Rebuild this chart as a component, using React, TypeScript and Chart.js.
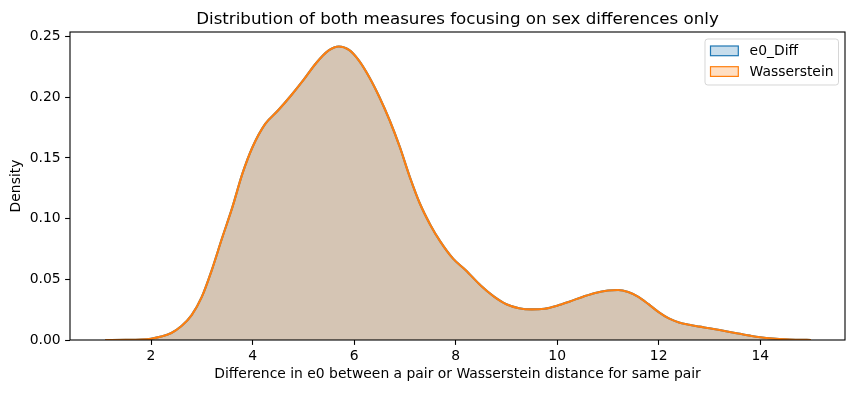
import React, { useEffect, useRef } from "react";
import { Chart, registerables } from "chart.js";

Chart.register(...registerables);

const FONT = "'DejaVu Sans', sans-serif";

const titleText = "Distribution of both measures focusing on sex differences only";
const xAxisLabel = "Difference in e0 between a pair or Wasserstein distance for same pair";
const yAxisLabel = "Density";
const seriesNames = ["e0_Diff", "Wasserstein"];

const gridX = [
  1.1, 1.5, 1.8, 2.0, 2.2, 2.4, 2.6, 2.8, 3.0, 3.2, 3.4, 3.6, 3.8, 4.0, 4.25, 4.5, 4.75,
  5.0, 5.25, 5.5, 5.7, 5.9, 6.1, 6.3, 6.5, 6.7, 6.9, 7.1, 7.3, 7.5, 7.7, 7.95, 8.2, 8.5,
  8.75, 9.0, 9.25, 9.5, 9.75, 10.0, 10.25, 10.5, 10.75, 11.0, 11.2, 11.4, 11.6, 11.8, 12.0,
  12.2, 12.4, 12.6, 12.8, 13.0, 13.2, 13.4, 13.6, 13.8, 14.0, 14.25, 14.5, 14.75, 15.0,
];

const e0Diff = [
  0.0, 0.0001, 0.0004, 0.0011, 0.0028, 0.0058, 0.0115, 0.0205, 0.0355, 0.058, 0.084, 0.109,
  0.137, 0.159, 0.178, 0.189, 0.201, 0.214, 0.228, 0.2385, 0.2418, 0.239, 0.23, 0.2165, 0.2,
  0.181, 0.159, 0.134, 0.112, 0.095, 0.081, 0.067, 0.0575, 0.0447, 0.036, 0.0295, 0.0262,
  0.0252, 0.0258, 0.0283, 0.0318, 0.0355, 0.0388, 0.0408, 0.0412, 0.0395, 0.0355, 0.0295,
  0.023, 0.0178, 0.0145, 0.0125, 0.011, 0.0097, 0.0082, 0.0066, 0.0051, 0.0036, 0.0023,
  0.0012, 0.0005, 0.0002, 0.0,
];

const wasserstein = [
  0.0, 0.0001, 0.0004, 0.0011, 0.0028, 0.0058, 0.0115, 0.0205, 0.0355, 0.058, 0.084, 0.109,
  0.137, 0.159, 0.178, 0.189, 0.201, 0.214, 0.228, 0.2385, 0.2418, 0.239, 0.23, 0.2165, 0.2,
  0.181, 0.159, 0.134, 0.112, 0.095, 0.081, 0.067, 0.0575, 0.0447, 0.036, 0.0295, 0.0262,
  0.0252, 0.0258, 0.0283, 0.0318, 0.0355, 0.0388, 0.0408, 0.0412, 0.0395, 0.0355, 0.0295,
  0.023, 0.0178, 0.0145, 0.0125, 0.011, 0.0097, 0.0082, 0.0066, 0.0051, 0.0036, 0.0023,
  0.0012, 0.0005, 0.0002, 0.0,
];

const xTicks = [2, 4, 6, 8, 10, 12, 14];
const yTicks = [0, 0.05, 0.1, 0.15, 0.2, 0.25];

const lineColors = ["#1f77b4", "#ff7f0e"];
const fillColors = ["rgba(31,119,180,0.25)", "rgba(255,127,14,0.25)"];

const framePlugin = {
  id: "frameAndExtras",
  afterDatasetsDraw(chart: any) {
    const { ctx, chartArea } = chart;
    const { left, right, top, bottom } = chartArea;
    ctx.save();
    ctx.strokeStyle = "#000";
    ctx.lineWidth = 1.1;
    ctx.strokeRect(left, top, right - left, bottom - top);
    ctx.restore();
  },
  afterDraw(chart: any) {
    const { ctx, chartArea } = chart;
    const { left, right } = chartArea;
    ctx.save();
    // title
    ctx.fillStyle = "#000";
    ctx.font = `16.7px ${FONT}`;
    ctx.textAlign = "center";
    ctx.textBaseline = "alphabetic";
    ctx.fillText(titleText, (left + right) / 2, 24);

    // legend
    const fx = right - 140;
    const fy = 39;
    const fw = 133.5;
    const fh = 46;
    const r = 2.8;
    ctx.beginPath();
    ctx.moveTo(fx + r, fy);
    ctx.lineTo(fx + fw - r, fy);
    ctx.arcTo(fx + fw, fy, fx + fw, fy + r, r);
    ctx.lineTo(fx + fw, fy + fh - r);
    ctx.arcTo(fx + fw, fy + fh, fx + fw - r, fy + fh, r);
    ctx.lineTo(fx + r, fy + fh);
    ctx.arcTo(fx, fy + fh, fx, fy + fh - r, r);
    ctx.lineTo(fx, fy + r);
    ctx.arcTo(fx, fy, fx + r, fy, r);
    ctx.closePath();
    ctx.fillStyle = "rgba(255,255,255,0.8)";
    ctx.fill();
    ctx.strokeStyle = "rgba(204,204,204,0.8)";
    ctx.lineWidth = 1;
    ctx.stroke();

    const ds = chart.data.datasets;
    ctx.font = `13.9px ${FONT}`;
    ctx.textAlign = "left";
    ctx.textBaseline = "alphabetic";
    for (let i = 0; i < ds.length; i++) {
      const py = 46 + i * 20.7;
      const px = fx + 5.5;
      ctx.fillStyle = "#fff";
      ctx.fillRect(px, py, 27.8, 9.7);
      ctx.fillStyle = ds[i].backgroundColor;
      ctx.fillRect(px, py, 27.8, 9.7);
      ctx.strokeStyle = ds[i].borderColor;
      ctx.lineWidth = 1.2;
      ctx.strokeRect(px, py, 27.8, 9.7);
      ctx.fillStyle = "#000";
      ctx.fillText(ds[i].label, px + 27.8 + 11.3, py + 9.4);
    }
    ctx.restore();
  },
};

export default function App() {
  const canvasRef = useRef<HTMLCanvasElement | null>(null);

  useEffect(() => {
    document.body.style.margin = "0";
    const canvas = canvasRef.current;
    if (!canvas) return;
    const mk = (vals: number[]) => gridX.map((x, i) => ({ x, y: vals[i] }));
    const chart = new Chart(canvas, {
      type: "line",
      data: {
        datasets: [
          {
            label: seriesNames[0],
            data: mk(e0Diff),
            borderColor: lineColors[0],
            backgroundColor: fillColors[0],
            borderWidth: 2.1,
            fill: "origin",
            pointRadius: 0,
            cubicInterpolationMode: "monotone",
            order: 1,
          },
          {
            label: seriesNames[1],
            data: mk(wasserstein),
            borderColor: lineColors[1],
            backgroundColor: fillColors[1],
            borderWidth: 2.1,
            fill: "origin",
            pointRadius: 0,
            cubicInterpolationMode: "monotone",
            order: 0,
          },
        ],
      },
      options: {
        animation: false,
        responsive: false,
        devicePixelRatio: 1,
        layout: { padding: { top: 32, right: 10, left: 0, bottom: 0 } },
        plugins: {
          legend: { display: false },
          title: { display: false },
          tooltip: { enabled: false },
        },
        scales: {
          x: {
            type: "linear",
            min: 0.404,
            max: 15.67,
            afterBuildTicks: (s: any) => {
              s.ticks = xTicks.map((v) => ({ value: v }));
            },
            afterFit: (s: any) => {
              s.height = 53;
            },
            ticks: {
              autoSkip: false,
              maxRotation: 0,
              color: "#000",
              font: { family: FONT, size: 13.9 },
              padding: 3.3,
              callback: (v: any) => String(v),
            },
            grid: {
              drawOnChartArea: false,
              drawTicks: true,
              tickLength: 4.9,
              tickColor: "#000",
              tickWidth: 1.1,
            },
            border: { display: false },
            title: {
              display: true,
              text: xAxisLabel,
              color: "#000",
              font: { family: FONT, size: 13.9 },
              padding: { top: 0, bottom: 10.5 },
            },
          },
          y: {
            type: "linear",
            min: 0,
            max: 0.2537,
            afterBuildTicks: (s: any) => {
              s.ticks = yTicks.map((v) => ({ value: v }));
            },
            afterFit: (s: any) => {
              s.width = 70;
            },
            ticks: {
              autoSkip: false,
              color: "#000",
              font: { family: FONT, size: 13.9 },
              padding: 4.5,
              callback: (v: any) => Number(v).toFixed(2),
            },
            grid: {
              drawOnChartArea: false,
              drawTicks: true,
              tickLength: 4.9,
              tickColor: "#000",
              tickWidth: 1.1,
            },
            border: { display: false },
            title: {
              display: true,
              text: yAxisLabel,
              color: "#000",
              font: { family: FONT, size: 13.9 },
              padding: { top: 7.9, bottom: 0 },
            },
          },
        },
      },
      plugins: [framePlugin],
    } as any);
    return () => chart.destroy();
  }, []);

  return (
    <div style={{ width: 855, height: 393, position: "relative", background: "#fff" }}>
      <canvas ref={canvasRef} width={855} height={393} style={{ display: "block" }} />
    </div>
  );
}
